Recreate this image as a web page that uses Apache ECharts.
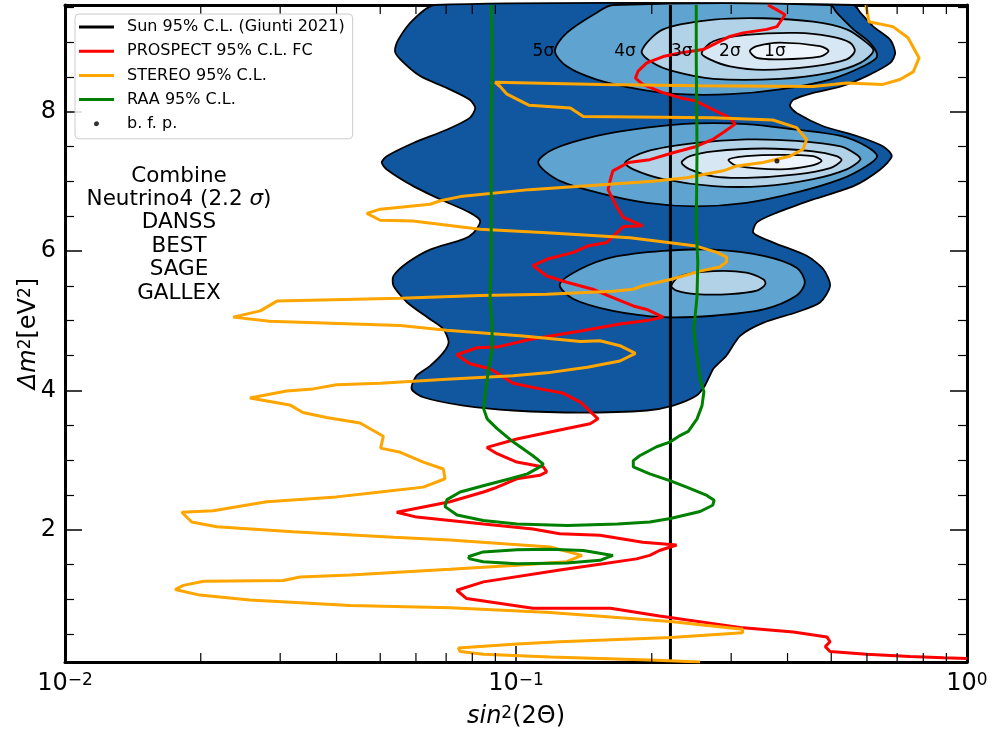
<!DOCTYPE html>
<html><head><meta charset="utf-8">
<script src="https://cdn.jsdelivr.net/npm/echarts@6/dist/echarts.min.js"></script>
<style>html,body{margin:0;padding:0;background:#fff}#chart{width:995px;height:734px}</style>
</head><body><div id="chart"></div>
<script>
const X_MIN = 0.01, X_MAX = 1, Y_MIN = 0.1, Y_MAX = 9.53;
const xMinorTicks = [0.02,0.03,0.04,0.05,0.06,0.07,0.08,0.09,0.2,0.3,0.4,0.5,0.6,0.7,0.8,0.9];

const sunLine = [[0.22, 0.1],[0.22, 9.53]];
const bfp = [[0.379, 7.29]];

const prospect = [[0.362,9.53],[0.379,9.46],[0.395,9.39],[0.379,9.22],[0.360,9.18],[0.319,9.13],[0.298,9.08],[0.260,8.89],[0.231,8.84],[0.212,8.79],[0.195,8.70],[0.1865,8.58],[0.184,8.48],[0.191,8.39],[0.212,8.27],[0.231,8.20],[0.251,8.15],[0.273,8.03],[0.298,7.91],[0.306,7.82],[0.288,7.70],[0.273,7.60],[0.251,7.50],[0.223,7.41],[0.198,7.31],[0.1775,7.27],[0.164,7.15],[0.162,7.03],[0.160,6.88],[0.167,6.64],[0.173,6.48],[0.191,6.36],[0.173,6.35],[0.164,6.21],[0.159,6.12],[0.144,6.07],[0.134,5.98],[0.117,5.88],[0.109,5.79],[0.117,5.64],[0.1296,5.55],[0.148,5.45],[0.164,5.33],[0.182,5.21],[0.195,5.16],[0.212,5.05],[0.195,5.00],[0.170,4.95],[0.139,4.85],[0.107,4.73],[0.0908,4.62],[0.0819,4.61],[0.0739,4.51],[0.079,4.38],[0.0876,4.31],[0.0985,4.10],[0.113,4.02],[0.127,3.96],[0.139,3.83],[0.152,3.59],[0.146,3.52],[0.119,3.40],[0.1004,3.30],[0.0862,3.18],[0.0908,3.09],[0.1004,2.97],[0.115,2.90],[0.117,2.83],[0.113,2.78],[0.1004,2.73],[0.0892,2.59],[0.0847,2.54],[0.0714,2.40],[0.0544,2.25],[0.0602,2.18],[0.0847,2.08],[0.109,2.01],[0.125,1.94],[0.1535,1.92],[0.191,1.82],[0.227,1.78],[0.208,1.70],[0.198,1.63],[0.185,1.58],[0.148,1.49],[0.125,1.42],[0.0847,1.25],[0.0739,1.13],[0.0777,1.01],[0.109,0.87],[0.162,0.87],[0.208,0.76],[0.319,0.59],[0.412,0.53],[0.489,0.46],[0.497,0.39],[0.485,0.32],[0.497,0.25],[0.599,0.21],[0.747,0.18],[0.888,0.16],[1.0,0.15]];

const stereo = [[0.597,9.53],[0.606,9.29],[0.685,9.22],[0.740,9.06],[0.783,8.77],[0.760,8.57],[0.710,8.46],[0.651,8.39],[0.541,8.41],[0.456,8.36],[0.256,8.37],[0.154,8.39],[0.0899,8.42],[0.0922,8.36],[0.0955,8.25],[0.107,8.09],[0.132,8.05],[0.141,7.93],[0.273,7.91],[0.371,7.88],[0.419,7.77],[0.441,7.60],[0.433,7.46],[0.405,7.36],[0.353,7.27],[0.309,7.22],[0.288,7.15],[0.239,7.05],[0.201,7.00],[0.164,6.96],[0.107,6.88],[0.0752,6.78],[0.068,6.72],[0.0645,6.67],[0.050,6.60],[0.0467,6.54],[0.050,6.44],[0.0591,6.43],[0.0833,6.31],[0.117,6.26],[0.179,6.19],[0.251,6.07],[0.279,5.98],[0.293,5.91],[0.293,5.84],[0.283,5.77],[0.256,5.71],[0.220,5.59],[0.191,5.50],[0.182,5.45],[0.164,5.42],[0.117,5.38],[0.0833,5.36],[0.0554,5.32],[0.0295,5.28],[0.0271,5.14],[0.0236,5.05],[0.0284,4.99],[0.0554,4.93],[0.0702,4.86],[0.1036,4.78],[0.139,4.70],[0.1535,4.71],[0.170,4.64],[0.184,4.53],[0.170,4.42],[0.144,4.33],[0.117,4.25],[0.0985,4.21],[0.0702,4.16],[0.050,4.10],[0.040,4.08],[0.0355,4.02],[0.031,3.99],[0.0257,3.89],[0.0315,3.79],[0.0337,3.68],[0.038,3.61],[0.0451,3.53],[0.0508,3.34],[0.0501,3.17],[0.0554,3.11],[0.0623,2.97],[0.069,2.87],[0.0696,2.73],[0.0623,2.61],[0.050,2.54],[0.040,2.47],[0.028,2.40],[0.0213,2.27],[0.01815,2.25],[0.0191,2.11],[0.0217,2.04],[0.032,1.97],[0.0535,1.89],[0.0714,1.85],[0.119,1.75],[0.140,1.63],[0.1296,1.54],[0.1004,1.49],[0.0714,1.43],[0.0429,1.35],[0.0332,1.32],[0.0305,1.27],[0.0203,1.26],[0.0183,1.20],[0.01755,1.14],[0.0199,1.06],[0.0257,0.99],[0.0429,0.91],[0.0714,0.88],[0.119,0.81],[0.220,0.68],[0.318,0.57],[0.318,0.52],[0.220,0.45],[0.125,0.39],[0.1004,0.36],[0.0745,0.30],[0.0752,0.25],[0.0847,0.21],[0.119,0.17],[0.198,0.13],[0.256,0.10]];

const raaMain = [[0.0881,9.53],[0.0886,8.75],[0.0881,7.89],[0.0881,6.74],[0.0881,5.88],[0.0876,5.35],[0.0885,4.88],[0.0885,4.59],[0.0863,4.16],[0.0854,3.94],[0.0848,3.73],[0.0863,3.59],[0.0908,3.45],[0.0985,3.26],[0.109,3.06],[0.115,2.94],[0.113,2.90],[0.106,2.80],[0.097,2.73],[0.0846,2.63],[0.0752,2.54],[0.0703,2.43],[0.0696,2.33],[0.074,2.21],[0.0846,2.13],[0.1005,2.08],[0.130,2.06],[0.168,2.08],[0.198,2.11],[0.220,2.16],[0.256,2.26],[0.273,2.35],[0.275,2.42],[0.265,2.49],[0.239,2.61],[0.220,2.70],[0.198,2.80],[0.182,2.90],[0.182,2.99],[0.188,3.06],[0.205,3.19],[0.220,3.26],[0.231,3.35],[0.241,3.41],[0.252,3.59],[0.2585,3.78],[0.261,3.98],[0.256,4.16],[0.252,4.49],[0.248,4.88],[0.252,5.35],[0.253,5.84],[0.251,6.31],[0.252,7.46],[0.251,8.75],[0.251,9.53]];
const raaLoop = [[0.0783,1.61],[0.0846,1.68],[0.1004,1.71],[0.119,1.72],[0.141,1.70],[0.164,1.63],[0.1535,1.56],[0.1296,1.52],[0.1004,1.51],[0.0846,1.54],[0.079,1.58],[0.0783,1.61]];

const region5 = [[0.066,9.53],[0.0592,9.32],[0.0548,9.03],[0.0539,8.87],[0.0554,8.75],[0.0613,8.51],[0.0702,8.34],[0.079,8.17],[0.0812,8.05],[0.079,7.91],[0.0702,7.74],[0.0592,7.55],[0.0517,7.36],[0.0504,7.27],[0.0517,7.17],[0.0592,6.93],[0.068,6.74],[0.079,6.55],[0.0833,6.43],[0.0805,6.26],[0.0765,6.17],[0.0645,6.02],[0.0574,5.83],[0.0535,5.64],[0.0535,5.50],[0.0574,5.26],[0.0645,5.02],[0.069,4.88],[0.0709,4.69],[0.069,4.54],[0.0645,4.35],[0.0602,4.21],[0.0587,4.02],[0.0623,3.90],[0.0765,3.78],[0.0986,3.71],[0.139,3.68],[0.195,3.71],[0.223,3.78],[0.251,3.92],[0.2625,4.07],[0.269,4.21],[0.274,4.31],[0.293,4.50],[0.314,4.78],[0.354,4.97],[0.419,5.12],[0.472,5.26],[0.497,5.50],[0.480,5.74],[0.441,5.93],[0.372,6.12],[0.336,6.26],[0.342,6.41],[0.379,6.55],[0.456,6.74],[0.560,6.93],[0.642,7.17],[0.681,7.36],[0.652,7.50],[0.570,7.65],[0.480,7.79],[0.419,7.98],[0.405,8.08],[0.412,8.17],[0.456,8.27],[0.525,8.36],[0.599,8.51],[0.676,8.70],[0.693,8.84],[0.676,9.03],[0.620,9.22],[0.580,9.42],[0.560,9.53]];
const region4Top = [[0.164,9.53],[0.151,9.42],[0.1296,9.13],[0.122,8.87],[0.1296,8.65],[0.151,8.46],[0.188,8.32],[0.231,8.25],[0.298,8.25],[0.385,8.32],[0.497,8.46],[0.589,8.65],[0.632,8.79],[0.609,8.99],[0.560,9.18],[0.514,9.42],[0.497,9.53]];
const region3Top = [[0.190,8.87],[0.212,9.18],[0.274,9.32],[0.354,9.34],[0.456,9.29],[0.541,9.18],[0.599,8.99],[0.620,8.87],[0.580,8.70],[0.497,8.56],[0.385,8.47],[0.274,8.47],[0.223,8.58],[0.201,8.70]];
const region2Top = [[0.258,8.84],[0.274,9.01],[0.324,9.10],[0.419,9.13],[0.497,9.08],[0.550,8.99],[0.564,8.87],[0.541,8.75],[0.456,8.65],[0.354,8.60],[0.298,8.65],[0.269,8.75]];
const region1Top = [[0.330,8.87],[0.342,8.94],[0.385,8.99],[0.472,8.94],[0.493,8.87],[0.472,8.79],[0.385,8.75],[0.342,8.77]];
const region4Mid = [[0.112,7.27],[0.121,7.46],[0.151,7.65],[0.195,7.77],[0.251,7.83],[0.324,7.82],[0.419,7.74],[0.525,7.65],[0.599,7.50],[0.632,7.36],[0.599,7.22],[0.525,7.03],[0.419,6.84],[0.324,6.69],[0.251,6.64],[0.195,6.69],[0.151,6.84],[0.123,7.03]];
const region3Mid = [[0.1745,7.27],[0.195,7.43],[0.251,7.55],[0.324,7.60],[0.419,7.58],[0.525,7.50],[0.570,7.38],[0.580,7.31],[0.541,7.17],[0.456,7.03],[0.354,6.93],[0.274,6.93],[0.212,7.03],[0.182,7.17]];
const region2Mid = [[0.233,7.27],[0.243,7.36],[0.274,7.43],[0.354,7.47],[0.456,7.43],[0.514,7.36],[0.527,7.30],[0.497,7.19],[0.419,7.10],[0.324,7.05],[0.274,7.07],[0.243,7.17]];
const region1Mid = [[0.296,7.31],[0.324,7.36],[0.385,7.38],[0.456,7.36],[0.476,7.29],[0.449,7.22],[0.385,7.17],[0.309,7.22]];
const region4Low = [[0.125,5.52],[0.139,5.74],[0.164,5.91],[0.212,6.00],[0.274,6.02],[0.354,5.93],[0.419,5.76],[0.437,5.55],[0.419,5.36],[0.354,5.16],[0.274,5.07],[0.212,5.05],[0.164,5.14],[0.134,5.31]];
const region3Low = [[0.221,5.50],[0.231,5.64],[0.274,5.71],[0.324,5.69],[0.354,5.59],[0.357,5.52],[0.342,5.43],[0.298,5.38],[0.251,5.38],[0.227,5.43]];

const sigmaLabels = ['5σ','4σ','3σ','2σ','1σ'];
const sigmaLabelX = [0.115,0.1745,0.233,0.298,0.375];
const sigmaLabelY = [8.86,8.86,8.86,8.86,8.86];

const annotationLines = ['Combine','Neutrino4 (2.2 σ)','DANSS','BEST','SAGE','GALLEX'];

const FONT = 'DejaVu Sans';
const C5 = '#10579f', C4 = '#5fa4d0', C3 = '#b2d2e8', C2 = '#d7e7f4', C1 = '#eef5fc';
const LINE_ICON = 'path://M0,0L0.01,0M35,18L35.01,18M0,7.5L35,7.5L35,10.5L0,10.5Z';
const DOT_ICON = 'path://M0,0L0.01,0M35,18L35.01,18M17.5,6.5A2.5,2.5 0 1,1 17.49,6.5Z';

function polySeries(pts, fill, level, smooth) {
  return {
    type: 'custom', silent: true, z: 2, xAxisIndex: 0, yAxisIndex: 0,
    data: pts, encode: {x: 0, y: 1},
    renderItem: function (params, api) {
      if (params.dataIndex !== 0) return null;
      return {type: 'polygon', z2: level,
        shape: {points: pts.map(p => api.coord(p)), smooth: smooth},
        style: {fill: fill, stroke: '#000', lineWidth: 1.8}};
    }
  };
}
function lineSeries(name, data, color, z) {
  return {name: name, type: 'line', data: data, symbol: 'none', showSymbol: false, z: z,
    lineStyle: {color: color, width: 3}, itemStyle: {color: color}, silent: true, clip: true};
}

const chart = echarts.init(document.getElementById('chart'), null, {renderer: 'canvas'});
const supStyle = {fontSize: 17, verticalAlign: 'top', fontFamily: FONT, color: '#000'};
const mainStyle = {fontSize: 24, fontFamily: FONT, color: '#000'};
const italStyle = {fontSize: 24, fontFamily: FONT, color: '#000', fontStyle: 'italic'};

const annotationGraphics = annotationLines.map((t, i) => {
  const isRich = t.indexOf('σ') >= 0;
  const text = isRich ? '{n|' + t.replace('σ', '}{i|σ}{n|') + '}' : t;
  return {type: 'text', x: 179, y: 176 + i * 23.4, silent: true, z: 20,
    style: {text: text, align: 'center', verticalAlign: 'middle', fontSize: 21.5, fontFamily: FONT, fill: '#000',
      rich: {n: {fontSize: 21.5, fontFamily: FONT}, i: {fontSize: 21.5, fontFamily: FONT, fontStyle: 'italic'}}}};
});

const option = {
  animation: false,
  backgroundColor: '#fff',
  grid: {left: 65, right: 28, top: 5, bottom: 71, show: false},
  legend: {
    orient: 'vertical', left: 75, top: 14,
    padding: [4, 8, 6, 4], itemWidth: 35, itemHeight: 18, itemGap: 6.2,
    backgroundColor: 'rgba(255,255,255,0.85)', borderColor: '#cccccc', borderWidth: 1, borderRadius: 4,
    textStyle: {fontFamily: FONT, fontSize: 16, color: '#000', lineHeight: 18, padding: [0, 0, 0, 8]},
    itemStyle: {borderWidth: 0},
    selectedMode: false, z: 30,
    data: [
      {name: 'Sun 95% C.L. (Giunti 2021)', icon: LINE_ICON},
      {name: 'PROSPECT 95% C.L. FC', icon: LINE_ICON},
      {name: 'STEREO 95% C.L.', icon: LINE_ICON},
      {name: 'RAA 95% C.L.', icon: LINE_ICON},
      {name: 'b. f. p.', icon: DOT_ICON}]
  },
  xAxis: [
    {type: 'log', logBase: 10, min: X_MIN, max: X_MAX, position: 'bottom',
      axisLine: {show: true, onZero: false, lineStyle: {color: '#000', width: 3}},
      axisTick: {show: true, inside: true, length: 16, lineStyle: {color: '#000', width: 1.5}},
      splitLine: {show: false}, minorTick: {show: false},
      axisLabel: {margin: 10, color: '#000', fontFamily: FONT, fontSize: 24,
        formatter: function (v) { const e = Math.round(Math.log10(v)); return '{b|10}{s|' + (e < 0 ? '\u2212' + (-e) : e) + '}'; },
        rich: {b: mainStyle, s: supStyle}},
      name: '{i|sin}{s|2}{n|(2Θ)}', nameLocation: 'middle', nameGap: 43, nameMoveOverlap: false,
      nameTextStyle: {fontSize: 24, fontFamily: FONT, color: '#000', rich: {i: italStyle, n: mainStyle, s: supStyle}}},
    {type: 'log', logBase: 10, min: X_MIN, max: X_MAX, position: 'top',
      axisLine: {show: true, onZero: false, lineStyle: {color: '#000', width: 3}},
      axisTick: {show: true, inside: true, length: 16, lineStyle: {color: '#000', width: 1.5}},
      splitLine: {show: false}, axisLabel: {show: false}}
  ],
  yAxis: [
    {type: 'value', min: Y_MIN, max: Y_MAX, splitNumber: 5, position: 'left',
      axisLine: {show: true, onZero: false, lineStyle: {color: '#000', width: 3}},
      axisTick: {show: true, inside: true, length: 17, lineStyle: {color: '#000', width: 1.5}},
      minorTick: {show: true, splitNumber: 4, length: 9, lineStyle: {color: '#000', width: 1.2}},
      splitLine: {show: false},
      axisLabel: {fontSize: 24, color: '#000', fontFamily: FONT, margin: 9, showMinLabel: false, showMaxLabel: false,
        formatter: function (v) { const r = Math.round(v); return (Math.abs(v - r) < 1e-6 && r % 2 === 0 && r > 0) ? String(r) : ''; }},
      name: '{i|Δm}{s|2}{n|[eV}{s|2}{n|]}', nameLocation: 'middle', nameGap: 24, nameRotate: 90, nameMoveOverlap: false,
      nameTextStyle: {fontSize: 24, fontFamily: FONT, color: '#000', rich: {i: italStyle, n: mainStyle, s: supStyle}}},
    {type: 'value', min: Y_MIN, max: Y_MAX, splitNumber: 5, position: 'right',
      axisLine: {show: true, onZero: false, lineStyle: {color: '#000', width: 3}},
      axisTick: {show: true, inside: true, length: 17, lineStyle: {color: '#000', width: 1.5}},
      minorTick: {show: true, splitNumber: 4, length: 9, lineStyle: {color: '#000', width: 1.2}},
      splitLine: {show: false}, axisLabel: {show: false}}
  ],
  graphic: annotationGraphics,
  series: [
    polySeries(region5, C5, 1, 0.25),
    polySeries(region4Top, C4, 2, 0.3),
    polySeries(region4Mid, C4, 2, 0.3),
    polySeries(region4Low, C4, 2, 0.3),
    polySeries(region3Top, C3, 3, 0.3),
    polySeries(region3Mid, C3, 3, 0.3),
    polySeries(region3Low, C3, 3, 0.3),
    polySeries(region2Top, C2, 4, 0.3),
    polySeries(region2Mid, C2, 4, 0.3),
    polySeries(region1Top, C1, 5, 0.3),
    polySeries(region1Mid, C1, 5, 0.3),
    lineSeries('Sun 95% C.L. (Giunti 2021)', sunLine, '#000000', 3),
    lineSeries('PROSPECT 95% C.L. FC', prospect, '#ff0000', 4),
    lineSeries('STEREO 95% C.L.', stereo, '#ffa500', 4),
    lineSeries('RAA 95% C.L.', raaMain, '#008000', 4),
    lineSeries('RAA 95% C.L.', raaLoop, '#008000', 4),
    {name: 'b. f. p.', type: 'scatter', data: bfp, symbol: 'circle', symbolSize: 5, z: 6, silent: true,
      itemStyle: {color: '#000'}},
    {type: 'custom', silent: true, z: 6, data: sigmaLabelX.map((x, i) => [x, sigmaLabelY[i]]), encode: {x: 0, y: 1},
      renderItem: function (params, api) {
        const p = api.coord([api.value(0), api.value(1)]);
        return {type: 'text', x: p[0], y: p[1], style: {text: sigmaLabels[params.dataIndex], align: 'center', verticalAlign: 'middle',
          fontSize: 17, fontFamily: FONT, fill: '#000'}};
      }},
    {type: 'custom', silent: true, z: 10, data: xMinorTicks.map(v => [v, Y_MIN]), encode: {x: 0, y: 1},
      renderItem: function (params, api) {
        const v = api.value(0);
        const b = api.coord([v, Y_MIN]);
        const t = api.coord([v, Y_MAX]);
        return {type: 'group', children: [
          {type: 'line', shape: {x1: b[0], y1: b[1], x2: b[0], y2: b[1] - 9}, style: {stroke: '#000', lineWidth: 1.2}},
          {type: 'line', shape: {x1: t[0], y1: t[1], x2: t[0], y2: t[1] + 9}, style: {stroke: '#000', lineWidth: 1.2}}
        ]};
      }}
  ]
};
chart.setOption(option);
</script></body></html>
